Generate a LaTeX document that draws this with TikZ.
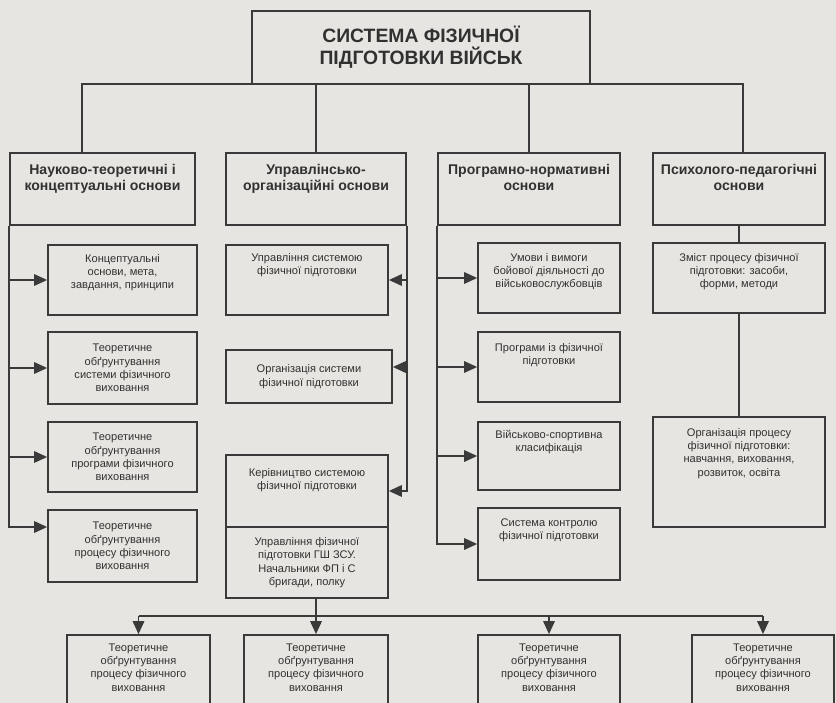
\documentclass[tikz,border=0pt]{standalone}
\usepackage{fontspec}
\setmainfont{Liberation Sans}
\usetikzlibrary{arrows.meta}
\definecolor{paper}{HTML}{E6E5E1}
\definecolor{ink}{HTML}{3A3A3A}

\begin{document}
\begin{tikzpicture}[
    x=0.02cm, y=-0.02cm,
    every node/.style={text=ink!85!black},
    basebox/.style={draw=ink, line width=1pt, align=center, inner sep=0pt},
    sysbox/.style={basebox, font=\fontsize{11}{12.5}\selectfont\bfseries, minimum width=6.76cm, minimum height=1.46cm},
    headbox/.style={basebox, font=\fontsize{8}{9.5}\selectfont\bfseries, minimum height=1.44cm, text height=0.755cm, text depth=0.685cm},
    subbox/.style={basebox, font=\fontsize{6.3}{7.6}\selectfont},
    txtpos/.style 2 args={text height=#1, text depth=#2},
    conn/.style={draw=ink, line width=1pt},
    flow/.style={conn, -{Triangle[length=2.6mm, width=2.3mm]}}
]
\fill[paper] (0,0) rectangle (836,703);
\useasboundingbox (0,0) rectangle (836,703);
\clip (0,0) rectangle (836,703);

\node[sysbox] (sys) at (421,47.5) {СИСТЕМА ФІЗИЧНОЇ\\ПІДГОТОВКИ ВІЙСЬК};

\node[headbox, minimum width=3.70cm] (h1) at (102.5,189) {Науково-теоретичні і\\концептуальні основи};
\node[headbox, minimum width=3.60cm] (h2) at (316,189) {Управлінсько-\\організаційні основи};
\node[headbox, minimum width=3.64cm] (h3) at (529,189) {Програмно-нормативні\\основи};
\node[headbox, minimum width=3.44cm] (h4) at (739,189) {Психолого-педагогічні\\основи};

\node[subbox, minimum width=2.98cm, txtpos={0.876cm}{0.524cm}] (a1) at (122.5,280) {Концептуальні\\основи, мета,\\завдання, принципи};
\node[subbox, minimum width=2.98cm, minimum height=1.44cm] (a2) at (122.5,368) {Теоретичне\\обґрунтування\\системи фізичного\\виховання};
\node[subbox, minimum width=2.98cm, minimum height=1.40cm] (a3) at (122.5,457) {Теоретичне\\обґрунтування\\програми фізичного\\виховання};
\node[subbox, minimum width=2.98cm, minimum height=1.44cm] (a4) at (122.5,546) {Теоретичне\\обґрунтування\\процесу фізичного\\виховання};

\node[subbox, minimum width=3.24cm, txtpos={0.588cm}{0.812cm}] (b1) at (307,280) {Управління системою\\фізичної підготовки};
\node[subbox, minimum width=3.32cm, minimum height=1.06cm] (b2) at (309,376.5) {Організація системи\\фізичної підготовки};
\node[subbox, minimum width=3.24cm, txtpos={0.688cm}{0.752cm}] (b3) at (307,491) {Керівництво системою\\фізичної підготовки};
\node[subbox, minimum width=3.24cm, minimum height=1.42cm] (b4) at (307,562.5) {Управління фізичної\\підготовки ГШ ЗСУ.\\Начальники ФП і С\\бригади, полку};

\node[subbox, minimum width=2.84cm, txtpos={0.896cm}{0.504cm}] (c1) at (549,278) {Умови і вимоги\\бойової діяльності до\\військовослужбовців};
\node[subbox, minimum width=2.84cm, txtpos={0.648cm}{0.752cm}] (c2) at (549,367) {Програми із фізичної\\підготовки};
\node[subbox, minimum width=2.84cm, txtpos={0.588cm}{0.772cm}] (c3) at (549,456) {Військово-спортивна\\класифікація};
\node[subbox, minimum width=2.84cm, txtpos={0.628cm}{0.812cm}] (c4) at (549,544) {Система контролю\\фізичної підготовки};

\node[subbox, minimum width=3.44cm, txtpos={0.896cm}{0.504cm}] (d1) at (739,278) {Зміст процесу фізичної\\підготовки: засоби,\\форми, методи};
\node[subbox, minimum width=3.44cm, txtpos={1.184cm}{1.016cm}] (d2) at (739,472) {Організація процесу\\фізичної підготовки:\\навчання, виховання,\\розвиток, освіта};

\node[subbox, minimum width=2.86cm, txtpos={1.124cm}{0.476cm}] (e1) at (138.5,675) {Теоретичне\\обґрунтування\\процесу фізичного\\виховання};
\node[subbox, minimum width=2.88cm, txtpos={1.124cm}{0.476cm}] (e2) at (316,675) {Теоретичне\\обґрунтування\\процесу фізичного\\виховання};
\node[subbox, minimum width=2.84cm, txtpos={1.124cm}{0.476cm}] (e3) at (549,675) {Теоретичне\\обґрунтування\\процесу фізичного\\виховання};
\node[subbox, minimum width=2.84cm, txtpos={1.124cm}{0.476cm}] (e4) at (763,675) {Теоретичне\\обґрунтування\\процесу фізичного\\виховання};

\coordinate (busL) at (82,84);
\coordinate (busR) at (743,84);
\coordinate (busB) at (0,616);

\draw[conn] (busL |- h1.north) -- (busL) -- (busR) -- (busR |- h4.north);
\draw[conn] (h2.north |- busL) -- (h2.north);
\draw[conn] (h3.north |- busL) -- (h3.north);

\draw[flow] (h1.south west) |- (a1);
\draw[flow] (h1.south west) |- (a2);
\draw[flow] (h1.south west) |- (a3);
\draw[flow] (h1.south west) |- ([yshift=0.38cm]a4.west);

\draw[flow] (h2.south east) |- (b1);
\draw[flow] (h2.south east) |- ([yshift=0.19cm]b2.east);
\draw[flow] (h2.south east) |- (b3);

\draw[flow] (h3.south west) |- (c1);
\draw[flow] (h3.south west) |- (c2);
\draw[flow] (h3.south west) |- (c3);
\draw[flow] (h3.south west) |- (c4);

\draw[conn] (h4.south) -- (d1.north);
\draw[conn] (d1.south) -- (d2.north);

\draw[conn] (e1.north |- busB) -- (e4.north |- busB);
\draw[flow] (e1.north |- busB) -- (e1.north);
\draw[flow] (e2.north |- b4.south) -- (e2.north);
\draw[flow] (e3.north |- busB) -- (e3.north);
\draw[flow] (e4.north |- busB) -- (e4.north);
\end{tikzpicture}
\end{document}
